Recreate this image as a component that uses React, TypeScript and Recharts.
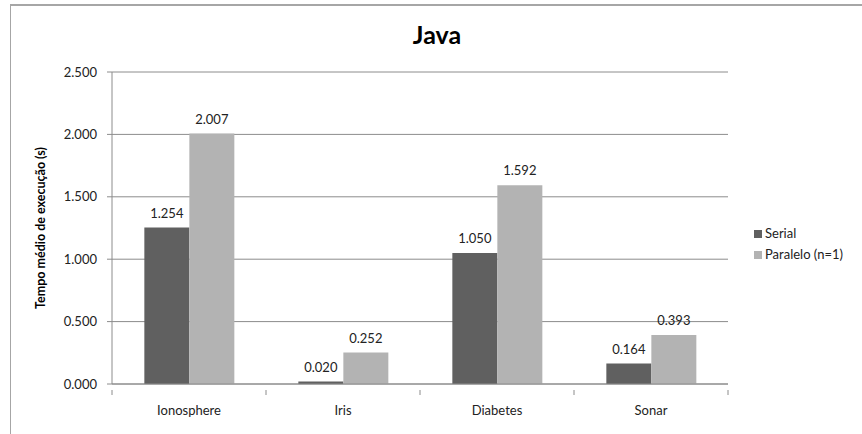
import { BarChart, Bar, XAxis, YAxis, CartesianGrid, LabelList } from "recharts";

const categories = ["Ionosphere", "Iris", "Diabetes", "Sonar"];
const serial = [1.254, 0.02, 1.05, 0.164];
const paralelo = [2.007, 0.252, 1.592, 0.393];
const yTicks = [0, 0.5, 1, 1.5, 2, 2.5];
const seriesNames = ["Serial", "Paralelo (n=1)"];
const seriesColors = ["#606060", "#b3b3b3"];

const data = categories.map((name, i) => ({ name, serial: serial[i], paralelo: paralelo[i] }));

const FONT = "Lato, 'Liberation Sans', sans-serif";
const AXIS = "#8c8c8c";
const fmt = (v: number) => Number(v).toFixed(3);

// category label plus the boundary tick marks Excel draws between groups
const CatTick = (props: any) => {
  const { x, y, payload, index } = props;
  const half = payload.offset ?? 0;
  return (
    <g>
      {index === 0 && <line x1={x - half} x2={x - half} y1={y - 14} y2={y - 9} stroke={AXIS} />}
      <line x1={x + half} x2={x + half} y1={y - 14} y2={y - 9} stroke={AXIS} />
      <text x={x} y={y} dy={11} textAnchor="middle" fontSize={13} fill="#222" fontFamily={FONT}>
        {payload.value}
      </text>
    </g>
  );
};

export default function App() {
  return (
    <div style={{ position: "fixed", left: 0, top: 0, width: 862, height: 434, overflow: "hidden", background: "#fff", fontFamily: FONT }}>
      <div style={{ position: "absolute", left: 10, top: 4, width: 900, height: 500, borderLeft: "1px solid #a6a6a6", borderTop: "2px solid #a6a6a6" }} />
      <div style={{ position: "absolute", left: 0, width: 862, top: 19, textAlign: "center", fontWeight: 700, fontSize: 25, color: "#000", paddingLeft: 6 }}>
        Java
      </div>
      <div style={{ position: "absolute", left: 0, top: 0 }}>
        <BarChart width={862} height={434} data={data} margin={{ top: 72, right: 134, bottom: 0, left: 0 }} barCategoryGap="21%" barGap={0}>
          <CartesianGrid vertical={false} stroke={AXIS} />
          <XAxis dataKey="name" height={50} stroke={AXIS} tickLine={false} tick={<CatTick />} tickMargin={14} />
          <YAxis
            width={112}
            domain={[0, 2.5]}
            ticks={yTicks}
            tickFormatter={fmt}
            stroke={AXIS}
            tickSize={5}
            tickMargin={10}
            tick={{ fill: "#222", fontSize: 13, fontFamily: FONT }}
            label={{
              content: () => (
                <text x={40} y={228} transform="rotate(-90, 40, 228)" textAnchor="middle" dominantBaseline="central" fontSize={12.5} fontWeight={700} fill="#000" fontFamily={FONT}>
                  Tempo médio de execução (s)
                </text>
              ),
            }}
          />
          <Bar dataKey="serial" name={seriesNames[0]} fill={seriesColors[0]} isAnimationActive={false}>
            <LabelList dataKey="serial" position="top" offset={10} formatter={fmt} style={{ fill: "#222", fontSize: 13, fontFamily: FONT }} />
          </Bar>
          <Bar dataKey="paralelo" name={seriesNames[1]} fill={seriesColors[1]} isAnimationActive={false}>
            <LabelList dataKey="paralelo" position="top" offset={10} formatter={fmt} style={{ fill: "#222", fontSize: 13, fontFamily: FONT }} />
          </Bar>
        </BarChart>
      </div>
      <div style={{ position: "absolute", left: 754, top: 223, fontSize: 13, color: "#222", lineHeight: "21px" }}>
        {seriesNames.map((n, i) => (
          <div key={n} style={{ display: "flex", alignItems: "center" }}>
            <span style={{ width: 8, height: 8, background: seriesColors[i], marginRight: 3, display: "inline-block" }} />
            {n}
          </div>
        ))}
      </div>
    </div>
  );
}
